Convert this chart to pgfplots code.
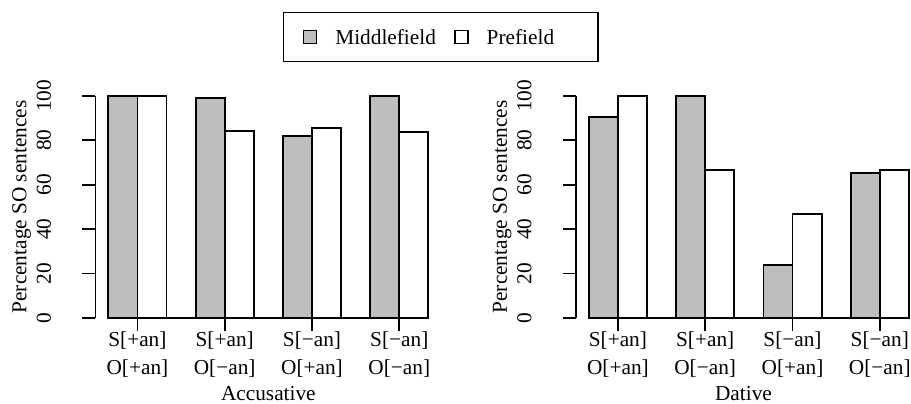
\documentclass[border=0pt]{standalone}
\usepackage{fontspec}
\setmainfont{Liberation Serif}
\usepackage{pgfplots}
\usepackage{pgfplotstable}
\pgfplotsset{compat=1.18}
\definecolor{rgray}{HTML}{BEBEBE}

% percentage of SO sentences, Middlefield (mid) and Prefield (pre)
\pgfplotstableread{
x  mid    pre
2  100.0  100.0
5  98.8   84.0
8  81.7   85.6
11 100.0  83.8
}\accdata
\pgfplotstableread{
x  mid    pre
2  90.4   100.0
5  100.0  66.7
8  23.7   46.7
11 65.3   66.7
}\datdata

\pgfplotsset{
  rpanel/.style={
    scale only axis,
    height=111.15pt,
    anchor=south west,
    ymin=0, ymax=100,
    axis y line*=left, axis x line*=bottom,
    axis line style={line width=0.9pt},
    tick align=outside,
    major tick length=6.5pt,
    every tick/.style={black, line width=0.9pt},
    ytick={0,20,...,100},
    xtick={2,5,8,11},
    xticklabels={{S[+an]\\O[+an]},{S[+an]\\O[−an]},{S[−an]\\O[+an]},{S[−an]\\O[−an]}},
    xticklabel style={align=center, anchor=north, inner sep=0pt},
    yticklabel style={rotate=90, anchor=south, inner sep=0pt},
    yticklabel shift=15.5pt,
    /pgf/number format/assume math mode=true,
    ybar, bar width=1,
    ylabel={Percentage SO sentences},
    every axis x label/.style={at={(axis description cs:0.5,0)}, anchor=base, yshift=-41.2pt},
  },
  midbar/.style={fill=rgray, draw=black, line width=0.9pt, bar shift=-0.5},
  prebar/.style={fill=white, draw=black, line width=0.9pt, bar shift=0.5},
}

\begin{document}
\fontsize{10.65}{14.25}\selectfont
\begin{tikzpicture}
\useasboundingbox (0pt,0pt) rectangle (455.5pt,201.5pt);
\begin{axis}[
  rpanel,
  at={(47.75pt,42.5pt)},
  width=172.85pt,
  xmin=0.56, xmax=12.44,
  x axis line style={shorten <=20.95pt, shorten >=20.95pt},
  every axis y label/.style={at={(axis description cs:-0.1996,0.5)}, rotate=90, anchor=base},
  xlabel={Accusative},
  legend columns=2,
  legend cell align=left,
  legend image code/.code={\draw[#1] (0pt,-3.25pt) rectangle (6.5pt,3.25pt);},
  legend style={at={(axis description cs:0.999,1.378)}, anchor=north,
    draw=black, line width=0.9pt, inner xsep=9.5pt, inner ysep=5.5pt,
    nodes={inner sep=3pt, text depth=0pt},
    /tikz/every odd column/.append style={column sep=6pt},
    /tikz/every even column/.append style={column sep=6pt}},
]
\addplot[midbar] table[x=x, y=mid] {\accdata};
\addplot[prebar] table[x=x, y=pre] {\accdata};
\legend{Middlefield, Prefield\hspace*{9.5pt}}
\end{axis}
\begin{axis}[
  rpanel,
  at={(288pt,42.5pt)},
  width=167.5pt,
  xmin=0.56, xmax=12.072,
  x axis line style={shorten <=20.95pt, shorten >=15.6pt},
  every axis y label/.style={at={(axis description cs:-0.206,0.5)}, rotate=90, anchor=base},
  xlabel={Dative},
]
\addplot[midbar] table[x=x, y=mid] {\datdata};
\addplot[prebar] table[x=x, y=pre] {\datdata};
\end{axis}
\end{tikzpicture}
\end{document}
